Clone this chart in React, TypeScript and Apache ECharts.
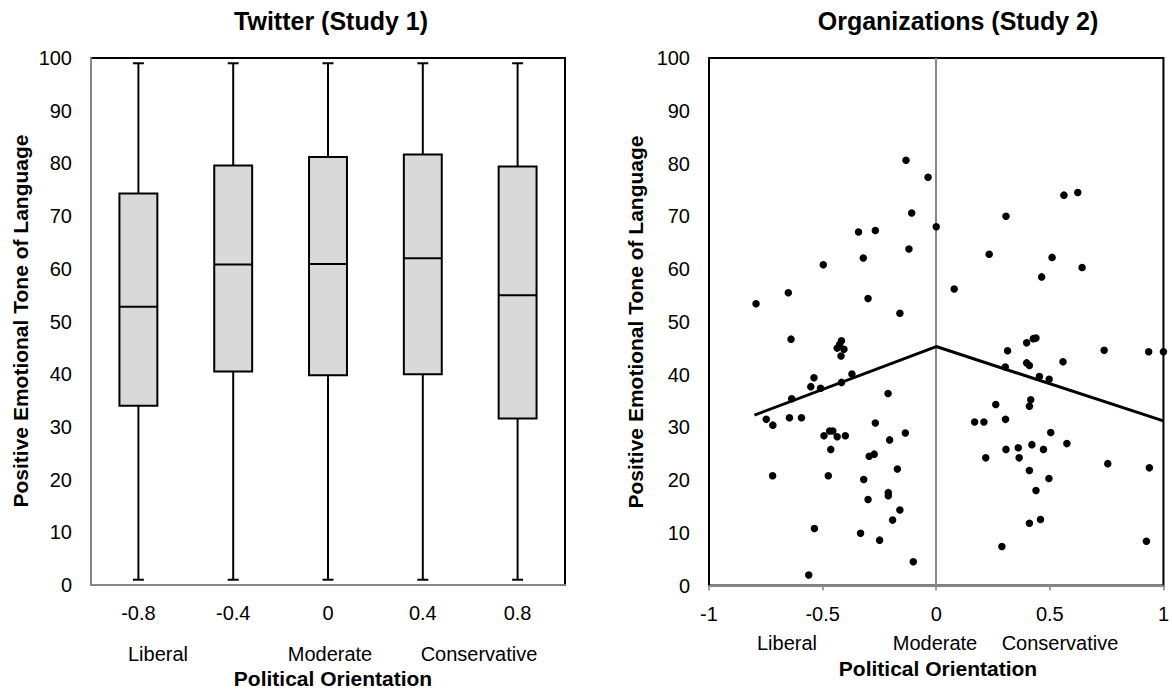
import React, { useEffect, useRef } from "react";
import * as echarts from "echarts";

// ---- Study 1 (box plot) ----
const boxCategories = ["-0.8", "-0.4", "0", "0.4", "0.8"];
const boxMin = [1, 1, 1, 1, 1];
const boxQ1 = [34.0, 40.5, 39.8, 40.0, 31.6];
const boxMedian = [52.8, 60.8, 60.9, 62.0, 55.0];
const boxQ3 = [74.3, 79.6, 81.2, 81.7, 79.4];
const boxMax = [99, 99, 99, 99, 99];

// ---- Study 2 (scatter) ----
const scatterX = [
  -0.793, -0.651, -0.497, -0.342, -0.268, -0.321, -0.3, -0.133, -0.036, -0.108,
  -0.12, 0.0, -0.16, -0.639, -0.417, -0.436, -0.406, -0.419, -0.425, -0.371,
  -0.417, -0.538, -0.552, -0.509, -0.636, -0.748, -0.719, -0.646, -0.593, -0.72,
  -0.494, -0.469, -0.455, -0.436, -0.4, -0.464, -0.475, -0.536, -0.561, -0.212,
  -0.268, -0.136, -0.205, -0.295, -0.273, -0.171, -0.319, -0.211, -0.211, -0.3,
  -0.16, -0.192, -0.333, -0.249, -0.101,
  0.079, 0.307, 0.233, 0.562, 0.623, 0.51, 0.464, 0.642, 0.314, 0.398,
  0.427, 0.439, 0.739, 0.935, 1.0, 0.558, 0.398, 0.41, 0.304, 0.454,
  0.497, 0.416, 0.41, 0.262, 0.305, 0.169, 0.21, 0.504, 0.575, 0.421,
  0.307, 0.361, 0.472, 0.218, 0.365, 0.755, 0.938, 0.41, 0.496, 0.439,
  0.459, 0.41, 0.289, 0.925,
];
const scatterY = [
  53.4, 55.5, 60.8, 67.0, 67.3, 62.1, 54.4, 80.6, 77.4, 70.6,
  63.8, 68.0, 51.6, 46.7, 46.4, 45.0, 44.8, 43.5, 45.7, 40.1,
  38.5, 39.4, 37.7, 37.4, 35.4, 31.5, 30.4, 31.8, 31.8, 20.8,
  28.4, 29.3, 29.3, 28.2, 28.4, 25.8, 20.8, 10.8, 2.0, 36.4,
  30.8, 28.9, 27.6, 24.5, 24.9, 22.1, 20.1, 17.6, 17.0, 16.3,
  14.3, 12.4, 9.9, 8.6, 4.5,
  56.2, 70.0, 62.8, 74.0, 74.5, 62.2, 58.5, 60.3, 44.5, 46.0,
  46.8, 46.9, 44.6, 44.3, 44.3, 42.4, 42.2, 41.7, 41.4, 39.6,
  39.1, 35.2, 34.0, 34.3, 31.5, 31.0, 31.0, 29.0, 26.9, 26.7,
  25.8, 26.1, 25.8, 24.2, 24.2, 23.1, 22.3, 21.8, 20.3, 18.0,
  12.5, 11.8, 7.4, 8.4,
];
const trendX = [-0.8, 0, 1];
const trendY = [32.3, 45.3, 31.2];

const FONT = "'Liberation Sans', Arial, sans-serif";
const GRAY = "#868686";

function txt(text: string, x: number, y: number, size: number, bold: boolean, rotation = 0) {
  return {
    type: "text",
    x,
    y,
    rotation,
    silent: true,
    style: {
      text,
      fill: "#000",
      font: `${bold ? "bold " : ""}${size}px ${FONT}`,
      align: "center",
      verticalAlign: "middle",
      textAlign: "center",
      textVerticalAlign: "middle",
    },
  };
}

export default function App() {
  const ref = useRef<HTMLDivElement>(null);
  useEffect(() => {
    document.body.style.margin = "0";
    const chart = echarts.init(ref.current!, null, { renderer: "svg" });
    const boxData = boxCategories.map((_, i) => [i, boxMin[i], boxQ1[i], boxMedian[i], boxQ3[i], boxMax[i]]);
    const scatterData = scatterX.map((x, i) => [x, scatterY[i]]);
    const trendData = trendX.map((x, i) => [x, trendY[i]]);
    const axisLabel = { fontSize: 20, color: "#000", fontFamily: FONT };

    chart.setOption({
      animation: false,
      grid: [
        { left: 91, top: 58, width: 474, height: 527, show: true, borderColor: "#000", borderWidth: 2 },
        { left: 709, top: 58, width: 459, height: 527.5, show: true, borderColor: "#000", borderWidth: 2 },
      ],
      xAxis: [
        {
          gridIndex: 0,
          type: "category",
          data: boxCategories,
          axisLine: { lineStyle: { color: GRAY, width: 2 } },
          axisTick: { show: false },
          axisLabel: { ...axisLabel, margin: 18 },
          splitLine: { show: false },
        },
        {
          gridIndex: 1,
          type: "value",
          min: -1,
          max: 1,
          interval: 0.5,
          axisLine: { onZero: false, lineStyle: { color: GRAY, width: 2 } },
          axisTick: { show: true, length: 5, lineStyle: { color: GRAY, width: 1.5 } },
          axisLabel: { ...axisLabel, margin: 18, showMinLabel: true, showMaxLabel: true },
          splitLine: { show: false },
        },
      ],
      yAxis: [
        {
          gridIndex: 0,
          type: "value",
          min: 0,
          max: 100,
          interval: 10,
          axisLine: { show: true, lineStyle: { color: GRAY, width: 2 } },
          axisTick: { show: false },
          axisLabel: { ...axisLabel, margin: 19 },
          splitLine: { show: false },
        },
        {
          gridIndex: 1,
          type: "value",
          min: 0,
          max: 100,
          interval: 10,
          axisLine: { show: true, lineStyle: { color: "#000", width: 2 } },
          axisTick: { show: false },
          axisLabel: { ...axisLabel, margin: 19 },
          splitLine: { show: false },
        },
      ],
      series: [
        {
          type: "custom",
          xAxisIndex: 0,
          yAxisIndex: 0,
          data: boxData,
          encode: { x: 0, y: [1, 2, 3, 4, 5] },
          renderItem: (params: any, api: any) => {
            const i = api.value(0);
            const lo = api.coord([i, api.value(1)]);
            const q1 = api.coord([i, api.value(2)]);
            const md = api.coord([i, api.value(3)]);
            const q3 = api.coord([i, api.value(4)]);
            const hi = api.coord([i, api.value(5)]);
            const bw = api.size([1, 0])[0] * 0.4;
            const cap = 11;
            const x = lo[0];
            const ls = { stroke: "#000", lineWidth: 2 };
            return {
              type: "group",
              children: [
                { type: "line", shape: { x1: x, y1: hi[1], x2: x, y2: q3[1] }, style: ls },
                { type: "line", shape: { x1: x, y1: q1[1], x2: x, y2: lo[1] }, style: ls },
                { type: "line", shape: { x1: x - cap / 2, y1: hi[1], x2: x + cap / 2, y2: hi[1] }, style: ls },
                { type: "line", shape: { x1: x - cap / 2, y1: lo[1], x2: x + cap / 2, y2: lo[1] }, style: ls },
                {
                  type: "rect",
                  shape: { x: x - bw / 2, y: q3[1], width: bw, height: q1[1] - q3[1] },
                  style: { fill: "#d9d9d9", stroke: "#000", lineWidth: 2 },
                },
                { type: "line", shape: { x1: x - bw / 2, y1: md[1], x2: x + bw / 2, y2: md[1] }, style: ls },
              ],
            };
          },
        },
        {
          type: "scatter",
          xAxisIndex: 1,
          yAxisIndex: 1,
          data: scatterData,
          symbolSize: 7.5,
          clip: false,
          itemStyle: { color: "#000", opacity: 1 },
          z: 3,
          markLine: {
            silent: true,
            symbol: "none",
            label: { show: false },
            lineStyle: { color: GRAY, width: 2, type: "solid" },
            data: [{ xAxis: 0 }],
            z: 1,
          },
        },
        {
          type: "line",
          xAxisIndex: 1,
          yAxisIndex: 1,
          data: trendData,
          symbol: "none",
          lineStyle: { color: "#000", width: 3 },
          z: 4,
        },
      ],
      graphic: [
        txt("Twitter (Study 1)", 331, 21, 25, true),
        txt("Organizations (Study 2)", 958, 21, 25, true),
        txt("Positive Emotional Tone of Language", 20, 321, 21, true, Math.PI / 2),
        txt("Positive Emotional Tone of Language", 635, 322, 21, true, Math.PI / 2),
        txt("Liberal", 158, 654, 20, false),
        txt("Moderate", 330, 654, 20, false),
        txt("Conservative", 479, 654, 20, false),
        txt("Political Orientation", 333, 678, 21, true),
        txt("Liberal", 787, 643, 20, false),
        txt("Moderate", 935, 643, 20, false),
        txt("Conservative", 1060, 643, 20, false),
        txt("Political Orientation", 938, 668, 21, true),
      ],
    });
    return () => chart.dispose();
  }, []);
  return <div ref={ref} style={{ width: 1172, height: 689 }} />;
}
